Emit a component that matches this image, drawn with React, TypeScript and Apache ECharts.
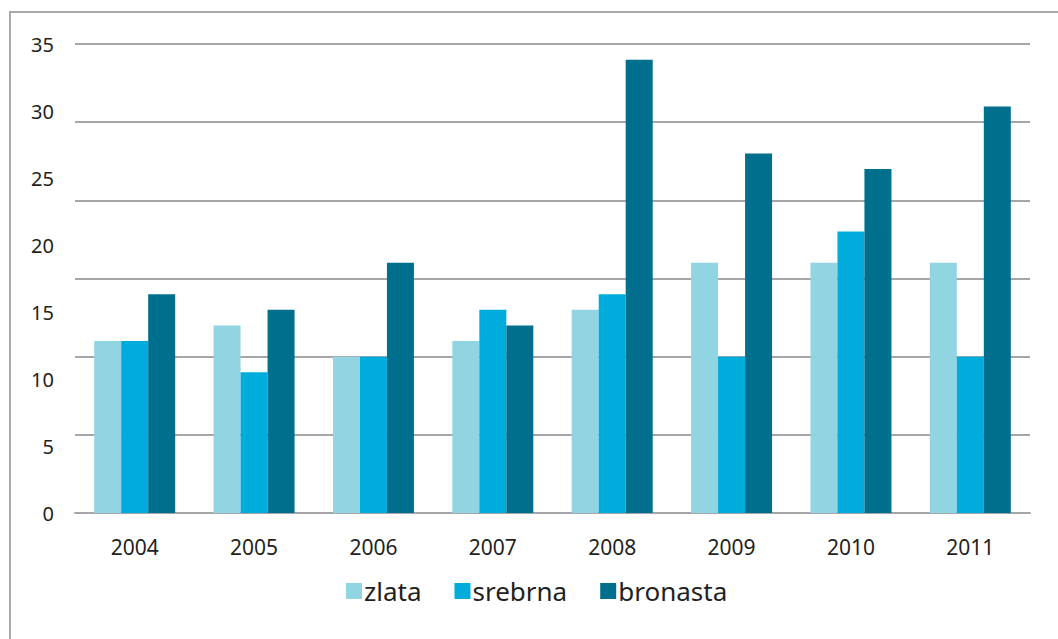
import React, { useEffect, useRef } from "react";
import * as echarts from "echarts";

const categories = ["2004", "2005", "2006", "2007", "2008", "2009", "2010", "2011"];
const seriesNames = ["zlata", "srebrna", "bronasta"];
const zlata = [11, 12, 10, 11, 13, 16, 16, 16];
const srebrna = [11, 9, 10, 13, 14, 10, 18, 10];
const bronasta = [14, 13, 16, 12, 29, 23, 22, 26];
const colors = ["#92d5e2", "#00acdc", "#006f8d"];
// printed tick labels (as shown on the original, which do not line up with its gridlines)
const tickLabels = ["0", "5", "10", "15", "20", "25", "30", "35"];

const FONT = "'Noto Sans', sans-serif";
const TEXT = "#231f20";
const GRID = "#a6a6aa";

export default function App() {
  const ref = useRef<HTMLDivElement>(null);
  useEffect(() => {
    if (!ref.current) return;
    const chart = echarts.init(ref.current, null, { renderer: "svg" });
    const data = [zlata, srebrna, bronasta];
    chart.setOption({
      animation: false,
      backgroundColor: "#ffffff",
      textStyle: { fontFamily: FONT, color: TEXT },
      grid: { left: 75, right: 28, top: 44, bottom: 126 },
      graphic: [
        {
          type: "rect",
          shape: { x: 10, y: 12, width: 1200, height: 800 },
          style: { fill: "none", stroke: "#a9a9ad", lineWidth: 2 },
          silent: true,
        },
      ],
      legend: {
        left: 346,
        top: 578,
        padding: 0,
        icon: "rect",
        itemWidth: 16,
        itemHeight: 16,
        itemGap: 33,
        textStyle: { fontFamily: FONT, fontSize: 26, color: TEXT, padding: [0, 0, 0, -3] },
        data: seriesNames,
      },
      xAxis: {
        type: "category",
        data: categories,
        axisLine: { show: true, lineStyle: { color: GRID, width: 2 } },
        axisTick: { show: false },
        axisLabel: { fontFamily: FONT, fontSize: 21, color: TEXT, margin: 23 },
      },
      yAxis: [
        {
          type: "value",
          min: 0,
          max: 30,
          interval: 5,
          axisLine: { show: false },
          axisTick: { show: false },
          axisLabel: { show: false },
          splitLine: { show: true, lineStyle: { color: GRID, width: 2 } },
        },
        {
          type: "value",
          position: "left",
          min: 0,
          max: 35,
          interval: 5,
          axisLine: { show: false },
          axisTick: { show: false },
          splitLine: { show: false },
          axisLabel: {
            fontFamily: FONT,
            fontSize: 20,
            color: TEXT,
            margin: 21,
            formatter: (v: number) => tickLabels[Math.round(v / 5)] ?? "",
          },
        },
      ],
      series: seriesNames.map((name, i) => ({
        name,
        type: "bar",
        yAxisIndex: 0,
        data: data[i],
        barWidth: 27,
        barGap: "0%",
        itemStyle: { color: colors[i] },
      })),
    });
    return () => chart.dispose();
  }, []);
  return (
    <div
      ref={ref}
      style={{ position: "fixed", left: 0, top: 0, width: 1058, height: 639 }}
    />
  );
}
